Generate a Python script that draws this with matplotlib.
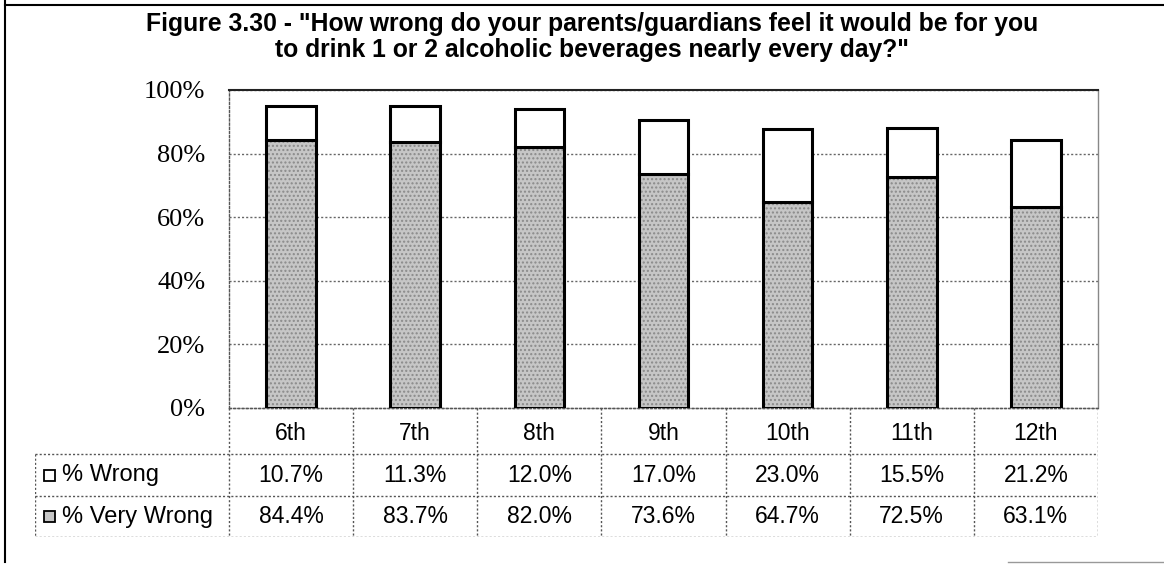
import matplotlib
matplotlib.use("Agg")
import matplotlib.pyplot as plt
from matplotlib.lines import Line2D
from matplotlib.patches import Rectangle
import numpy as np

# ---- data ----
grades = ["6th", "7th", "8th", "9th", "10th", "11th", "12th"]
very_wrong = [84.4, 83.7, 82.0, 73.6, 64.7, 72.5, 63.1]
wrong = [10.7, 11.3, 12.0, 17.0, 23.0, 15.5, 21.2]
series_names = ["% Wrong", "% Very Wrong"]
yticks = [0, 20, 40, 60, 80, 100]
title = ('Figure 3.30 - "How wrong do your parents/guardians feel it would be for you\n'
         'to drink 1 or 2 alcoholic beverages nearly every day?"')

W, H = 1164, 565
fig = plt.figure(figsize=(W / 100, H / 100), dpi=100)
fig.patch.set_facecolor("white")

def fx(px):
    return px / W

def fy(py):
    return 1 - py / H

# plot area pixels
L, R, T, B = 229, 1098, 90, 408
ax = fig.add_axes([fx(L), fy(B), fx(R) - fx(L), fy(T) - fy(B)])
x = np.arange(len(grades))
gray = "#c6c6c6"

# textured gray bottom bars
ax.bar(x, very_wrong, width=0.4, color=gray, edgecolor="#8a8a8a", hatch="....",
       linewidth=0, zorder=3)
ax.bar(x, very_wrong, width=0.4, fill=False, edgecolor="black", linewidth=2.2, zorder=4)
ax.bar(x, wrong, bottom=very_wrong, width=0.4, color="white", edgecolor="black",
       linewidth=2.2, zorder=4)

ax.set_xlim(-0.5, len(grades) - 0.5)
ax.set_ylim(0, 100)
ax.set_yticks(yticks)
ax.set_yticklabels([f"{v}%" for v in yticks], family="Liberation Serif", fontsize=19)
ax.tick_params(axis="y", length=0, pad=17)
ax.set_xticks([])
ax.yaxis.grid(True, linestyle=(0, (1.5, 1.5)), color="#666666", linewidth=1, zorder=0)
ax.set_axisbelow(True)
ax.spines["top"].set_color("#222222")
ax.spines["top"].set_linewidth(1.5)
ax.spines["right"].set_color("#888888")
ax.spines["right"].set_linewidth(1)
for s in ("left", "bottom"):
    ax.spines[s].set_linestyle((0, (1.5, 1.5)))
    ax.spines[s].set_color("#555555")
    ax.spines[s].set_linewidth(1)

# ---- data table ----
TL, TT, TB = 35, 408, 537
tax = fig.add_axes([fx(TL), fy(TB), fx(R) - fx(TL), fy(TT) - fy(TB)])
unit = (R - L) / len(grades)
left_units = (L - TL) / unit
tax.set_xlim(-0.5 - left_units, len(grades) - 0.5)
tax.set_ylim(TB - TT, 0)
tax.axis("off")
rows = [0, 46, 88, 129]
lkw = dict(color="#555555", linewidth=1, linestyle=(0, (1.5, 1.5)))
x0 = -0.5 - left_units
xe = len(grades) - 0.5
# horizontal lines
tax.plot([-0.5, xe], [rows[0], rows[0]], **lkw)
for r in rows[1:]:
    tax.plot([x0, xe], [r, r], **lkw)
# vertical lines
tax.plot([x0, x0], [rows[1], rows[3]], **lkw)
for i in range(len(grades) + 1):
    tax.plot([i - 0.5, i - 0.5], [rows[0], rows[3]], **lkw)

tfont = dict(family="Liberation Sans", fontsize=16.5, ha="center", va="center")
for i, g in enumerate(grades):
    tax.text(i, (rows[0] + rows[1]) / 2 + 2, g, **tfont)
    tax.text(i, (rows[1] + rows[2]) / 2, f"{wrong[i]:.1f}%", **tfont)
    tax.text(i, (rows[2] + rows[3]) / 2, f"{very_wrong[i]:.1f}%", **tfont)

# legend keys in the table
for k, (name, fc) in enumerate(zip(series_names, ["white", gray])):
    yc = (rows[k + 1] + rows[k + 2]) / 2
    mk = 11 / unit
    tax.add_patch(Rectangle((x0 + 9 / unit, yc - 5.5), mk, 11, facecolor=fc,
                            edgecolor="black", linewidth=1.3, clip_on=False))
    tax.text(x0 + 27 / unit, yc, name, family="Liberation Sans", fontsize=17,
             ha="left", va="center")

# ---- title ----
fig.text(fx(592), fy(37), title, ha="center", va="center", family="Liberation Sans",
         fontweight="bold", fontsize=17.8, linespacing=1.12)

# ---- outer frame pieces ----
fig.add_artist(Line2D([fx(5), fx(5)], [fy(0), fy(562)], color="black", linewidth=1.5))
fig.add_artist(Line2D([fx(5), fx(1164)], [fy(5), fy(5)], color="black", linewidth=1.5))
fig.add_artist(Line2D([fx(1008), fx(1164)], [fy(562), fy(562)], color="#999999", linewidth=1))

fig.savefig("out.png", dpi=100, facecolor="white")
